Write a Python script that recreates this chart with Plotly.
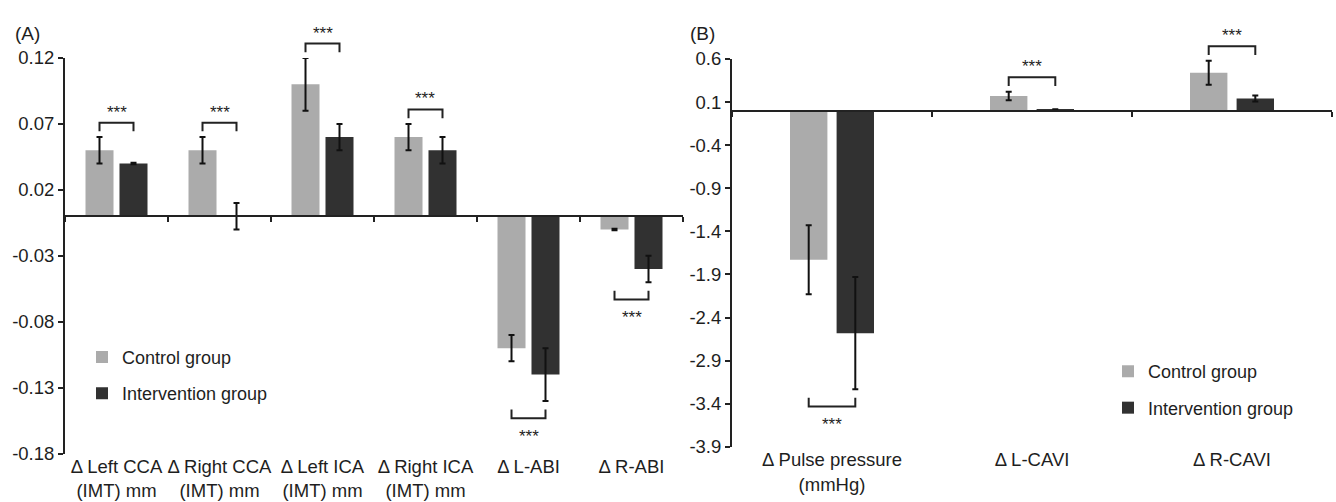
import plotly.graph_objects as go

# ---------------- data ----------------
cats_a = ["Δ Left CCA<br>(IMT) mm", "Δ Right CCA<br>(IMT) mm", "Δ Left ICA<br>(IMT) mm",
          "Δ Right ICA<br>(IMT) mm", "Δ L-ABI", "Δ R-ABI"]
control_a = [0.05, 0.05, 0.10, 0.06, -0.10, -0.01]
control_a_err = [0.01, 0.01, 0.02, 0.01, 0.01, 0.0006]
interv_a = [0.04, 0.0, 0.06, 0.05, -0.12, -0.04]
interv_a_err = [0.0006, 0.01, 0.01, 0.01, 0.02, 0.01]
sig_a = ["above", "above", "above", "above", "below", "below"]
sig_label_a = ["***", "***", "***", "***", "***", "***"]
yticks_a = [0.12, 0.07, 0.02, -0.03, -0.08, -0.13, -0.18]
yticklabels_a = ["0.12", "0.07", "0.02", "-0.03", "-0.08", "-0.13", "-0.18"]

cats_b = ["Δ Pulse pressure<br>(mmHg)", "Δ L-CAVI", "Δ R-CAVI"]
control_b = [-1.73, 0.17, 0.44]
control_b_err = [0.40, 0.05, 0.14]
interv_b = [-2.58, 0.01, 0.14]
interv_b_err = [0.65, 0.006, 0.035]
sig_b = ["below", "above", "above"]
sig_label_b = ["***", "***", "***"]
yticks_b = [0.6, 0.1, -0.4, -0.9, -1.4, -1.9, -2.4, -2.9, -3.4, -3.9]
yticklabels_b = ["0.6", "0.1", "-0.4", "-0.9", "-1.4", "-1.9", "-2.4", "-2.9", "-3.4", "-3.9"]

series_names = ["Control group", "Intervention group"]

# ---------------- style / layout ----------------
W, H = 1336, 502
FONT = "Liberation Sans, Arial, sans-serif"
TXT = "#1e1e1e"
LINE = "#222222"
C_CTRL = "#ababab"
C_INT = "#313131"
TICK_SIZE = 18.5

A_px = dict(x0=65, x1=683, y0=49, y1=462)
B_px = dict(x0=732, x1=1332, y0=50, y1=455)
A_range = [-0.18, 0.12]
B_range = [-3.9, 0.6]


def xdom(p):
    return [p["x0"] / W, p["x1"] / W]


def ydom(p):
    return [1 - p["y1"] / H, 1 - p["y0"] / H]


def zero_pos(p, rng):
    d = ydom(p)
    return d[0] + (d[1] - d[0]) * (0 - rng[0]) / (rng[1] - rng[0])


def units_per_px(p, rng):
    return (rng[1] - rng[0]) / (p["y1"] - p["y0"])


def paper_x(p, n, pos):
    d = xdom(p)
    return d[0] + (pos + 0.5) / n * (d[1] - d[0])


def paper_y(p, rng, val):
    d = ydom(p)
    return d[0] + (val - rng[0]) / (rng[1] - rng[0]) * (d[1] - d[0])


# bar geometry (category units)
BW_A, GAP_A = 0.272, 0.029
BW_B, GAP_B = 0.187, 0.023

fig = go.Figure()

err_style = dict(type="data", color="#111111", thickness=2, width=3, visible=True)


def add_panel(cats, ctrl, ctrl_e, intv, intv_e, xa, ya, xz, bw, gap, legend):
    fig.add_trace(go.Bar(
        x=cats, y=ctrl, name=series_names[0], marker_color=C_CTRL, marker_line_width=0,
        width=bw, offset=-gap - bw, error_y=dict(array=ctrl_e, **err_style),
        xaxis=xa, yaxis=ya, legend=legend, legendgroup=legend + "c"))
    fig.add_trace(go.Bar(
        x=cats, y=intv, name=series_names[1], marker_color=C_INT, marker_line_width=0,
        width=bw, offset=gap, error_y=dict(array=intv_e, **err_style),
        xaxis=xa, yaxis=ya, legend=legend, legendgroup=legend + "i"))
    # invisible trace giving the zero-line axis its categories
    fig.add_trace(go.Scatter(
        x=cats, y=[0] * len(cats), mode="markers", marker=dict(opacity=0),
        hoverinfo="skip", showlegend=False, xaxis=xz, yaxis=ya))


add_panel(cats_a, control_a, control_a_err, interv_a, interv_a_err, "x", "y", "x3", BW_A, GAP_A, "legend")
add_panel(cats_b, control_b, control_b_err, interv_b, interv_b_err, "x2", "y2", "x4", BW_B, GAP_B, "legend2")

shapes = []
annotations = []


def add_brackets(cats, ctrl, ctrl_e, intv, intv_e, sig, labels, bw, gap, p, rng):
    u = units_per_px(p, rng)
    n = len(cats)
    for i in range(n):
        xc = paper_x(p, n, i - gap - bw / 2)
        xi = paper_x(p, n, i + gap + bw / 2)
        if sig[i] == "above":
            ext = max(ctrl[i] + ctrl_e[i], intv[i] + intv_e[i])
            yl = ext + 6 * u
            yb = ext + 15 * u
            ys = yb + 15 * u - 4 * u
        else:
            ext = min(ctrl[i] - ctrl_e[i], intv[i] - intv_e[i])
            yl = ext - 9 * u
            yb = ext - 18 * u
            ys = yb - 15 * u - 4 * u
        pyl, pyb, pys = paper_y(p, rng, yl), paper_y(p, rng, yb), paper_y(p, rng, ys)
        shapes.append(dict(type="path", xref="paper", yref="paper",
                           path=f"M {xc},{pyl} L {xc},{pyb} L {xi},{pyb} L {xi},{pyl}",
                           line=dict(color=LINE, width=2)))
        annotations.append(dict(x=(xc + xi) / 2, y=pys, xref="paper", yref="paper", text=labels[i],
                                showarrow=False, xanchor="center", yanchor="middle",
                                font=dict(family=FONT, size=17, color=TXT)))


add_brackets(cats_a, control_a, control_a_err, interv_a, interv_a_err, sig_a, sig_label_a,
             BW_A, GAP_A, A_px, A_range)
add_brackets(cats_b, control_b, control_b_err, interv_b, interv_b_err, sig_b, sig_label_b,
             BW_B, GAP_B, B_px, B_range)

annotations.append(dict(x=13 / W, y=1 - 24 / H, xref="paper", yref="paper", text="(A)",
                        showarrow=False, xanchor="left", yanchor="middle",
                        font=dict(family=FONT, size=19, color=TXT)))
annotations.append(dict(x=688 / W, y=1 - 23 / H, xref="paper", yref="paper", text="(B)",
                        showarrow=False, xanchor="left", yanchor="middle",
                        font=dict(family=FONT, size=19, color=TXT)))

tickfont = dict(family=FONT, size=TICK_SIZE, color=TXT)


def label_axis(p, n):
    return dict(domain=xdom(p), type="category", range=[-0.5, n - 0.5], showline=False,
                ticks="", showgrid=False, zeroline=False, tickfont=tickfont,
                fixedrange=True)


def zero_axis(over, p, rng, n):
    return dict(overlaying=over, type="category", range=[-0.5, n - 0.5], anchor="free",
                position=zero_pos(p, rng), side="bottom", showline=True, linewidth=2,
                linecolor=LINE, ticks="outside", tickson="boundaries", ticklen=5,
                tickwidth=2, tickcolor=LINE, showticklabels=False, showgrid=False,
                zeroline=False)


def value_axis(p, rng, tv, tt, anchor):
    return dict(domain=ydom(p), range=rng, anchor=anchor, tickvals=tv, ticktext=tt,
                showline=True, linewidth=2, linecolor=LINE, ticks="outside", ticklen=5,
                tickwidth=2, tickcolor=LINE, showgrid=False, zeroline=False,
                tickfont=tickfont)


legend_font = dict(family=FONT, size=18, color=TXT)

fig.update_layout(
    width=W, height=H,
    margin=dict(l=0, r=0, t=0, b=0),
    paper_bgcolor="white", plot_bgcolor="white",
    barmode="group",
    hovermode=False,
    font=dict(family=FONT, size=17, color=TXT),
    xaxis=dict(anchor="y", **label_axis(A_px, len(cats_a))),
    xaxis2=dict(anchor="y2", **label_axis(B_px, len(cats_b))),
    xaxis3=zero_axis("x", A_px, A_range, len(cats_a)),
    xaxis4=zero_axis("x2", B_px, B_range, len(cats_b)),
    yaxis=value_axis(A_px, A_range, yticks_a, yticklabels_a, "x"),
    yaxis2=value_axis(B_px, B_range, yticks_b, yticklabels_b, "x2"),
    legend=dict(x=82 / W, y=1 - 342 / H, xanchor="left", yanchor="top",
                bgcolor="rgba(0,0,0,0)", font=legend_font,
                tracegroupgap=10, itemclick=False),
    legend2=dict(x=1108 / W, y=1 - 357 / H, xanchor="left", yanchor="top",
                 bgcolor="rgba(0,0,0,0)", font=legend_font,
                 tracegroupgap=10, itemclick=False),
    shapes=shapes,
    annotations=annotations,
    showlegend=True,
)

fig.write_html("out.html", config={"displayModeBar": False},
               post_script="document.body.style.margin='0';")
